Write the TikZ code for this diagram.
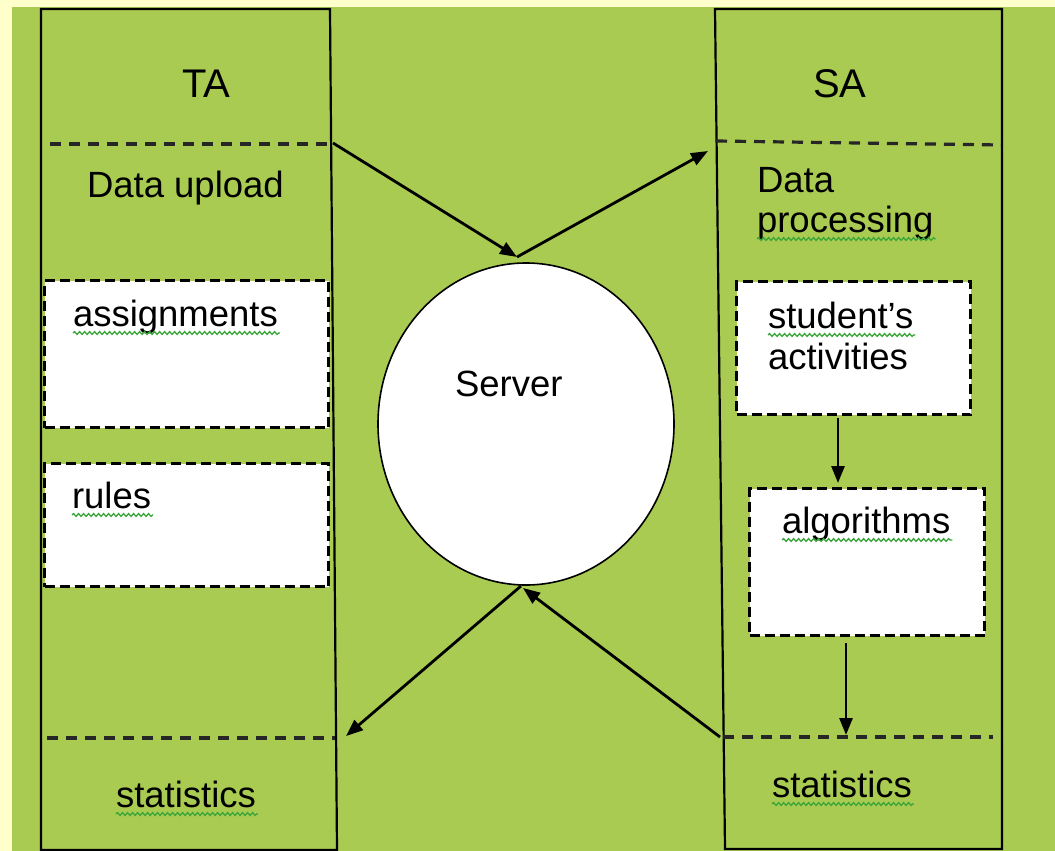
\documentclass[tikz,border=0pt]{standalone}
\usepackage{fontspec}
\setmainfont{Liberation Sans}
\usetikzlibrary{arrows.meta,decorations.pathmorphing,shapes.geometric}
\definecolor{bgyellow}{HTML}{FFFFCC}
\definecolor{panelgreen}{HTML}{A9CB51}
\definecolor{squig}{HTML}{3AA63A}
\begin{document}
\begin{tikzpicture}[x=1pt,y=-1pt,
  colline/.style={line width=2.2pt, draw=black},
  sepline/.style={line width=3.2pt, dash pattern=on 11pt off 8pt, draw=black!85},
  inbox/.style={draw=black, fill=white, line width=3.2pt, dash pattern=on 10pt off 5pt, inner sep=0pt, anchor=north west},
  lbl/.style={anchor=base west, inner sep=0pt, outer sep=0pt, font=\fontsize{36.5}{40}\selectfont},
  hdr/.style={lbl, font=\fontsize{40}{44}\selectfont},
  flow/.style={line width=2.8pt, draw=black, -{Triangle[length=17pt,width=13pt]}},
  spell/.style={draw=squig, line width=1.3pt, decorate, decoration={snake, segment length=5pt, amplitude=1.4pt}}
]
\useasboundingbox (0,0) rectangle (1055,851);
\fill[bgyellow] (0,0) rectangle (1055,851);
\fill[panelgreen] (12,7) rectangle (1055,851);

% columns
\draw[colline] (41,9) -- (330,9) -- (337,850) -- (41,850) -- cycle;
\draw[colline] (715,9) -- (1002,9) -- (1002,849) -- (725,849) -- cycle;

% separators
\draw[sepline] (50,144) -- (330,144);
\draw[sepline] (47,738) -- (335,738);
\draw[sepline] (716,141) -- (1001,145);
\draw[sepline] (723,737) -- (993,737);

% boxes
\node[inbox, minimum width=284pt, minimum height=147pt] (assign) at (43,279) {};
\node[inbox, minimum width=284pt, minimum height=123pt] (rules) at (43,462) {};
\node[inbox, minimum width=234pt, minimum height=133pt] (stud) at (735,280) {};
\node[inbox, minimum width=235pt, minimum height=147pt] (algo) at (748,487) {};

% server
\node[ellipse, draw=black, fill=white, line width=1.6pt, minimum width=296pt, minimum height=322pt, inner sep=0pt] (server) at (526,424) {};

% texts
\node[hdr] (ta) at (182,98) {TA};
\node[hdr] (sa) at (813,98) {SA};
\node[lbl] (upload) at (87,197) {Data upload};
\node[lbl] (dp1) at (757,192) {Data};
\node[lbl] (dp2) at (757,232) {processing};
\node[lbl] (assignt) at (73,326) {assignments};
\node[lbl] (rulest) at (72,508) {rules};
\node[lbl] (stud1) at (768,328) {student’s};
\node[lbl] (stud2) at (768,369) {activities};
\node[lbl] (algot) at (782,533) {algorithms};
\node[lbl] (servt) at (455,396) {Server};
\node[lbl] (statl) at (116,807) {statistics};
\node[lbl] (statr) at (772,797) {statistics};

% spell-check squiggles
\foreach \w in {dp2,assignt,rulest,stud1,algot,statl,statr}{
  \draw[spell] ([yshift=-7pt]\w.base west) -- ([yshift=-7pt,xshift=2pt]\w.base east);
}

% connector end points
\coordinate (taTop) at (333,143);
\coordinate (srvTop) at (517,257);
\coordinate (saTop) at (708,151);
\coordinate (srvBot) at (521,586);
\coordinate (taBot) at (346,736);
\coordinate (saBot) at (720,737);
\coordinate (srvBotIn) at (523,588);
\coordinate (studOut) at (838,418);
\coordinate (algoIn) at (838,483);
\coordinate (algoOut) at (846,643);
\coordinate (statIn) at (846,735);

\draw[flow] (taTop) -- (srvTop);
\draw[flow] (srvTop) -- (saTop);
\draw[flow] (srvBot) -- (taBot);
\draw[flow] (saBot) -- (srvBotIn);
\draw[flow] (studOut) -- (algoIn);
\draw[flow] (algoOut) -- (statIn);
\end{tikzpicture}
\end{document}
